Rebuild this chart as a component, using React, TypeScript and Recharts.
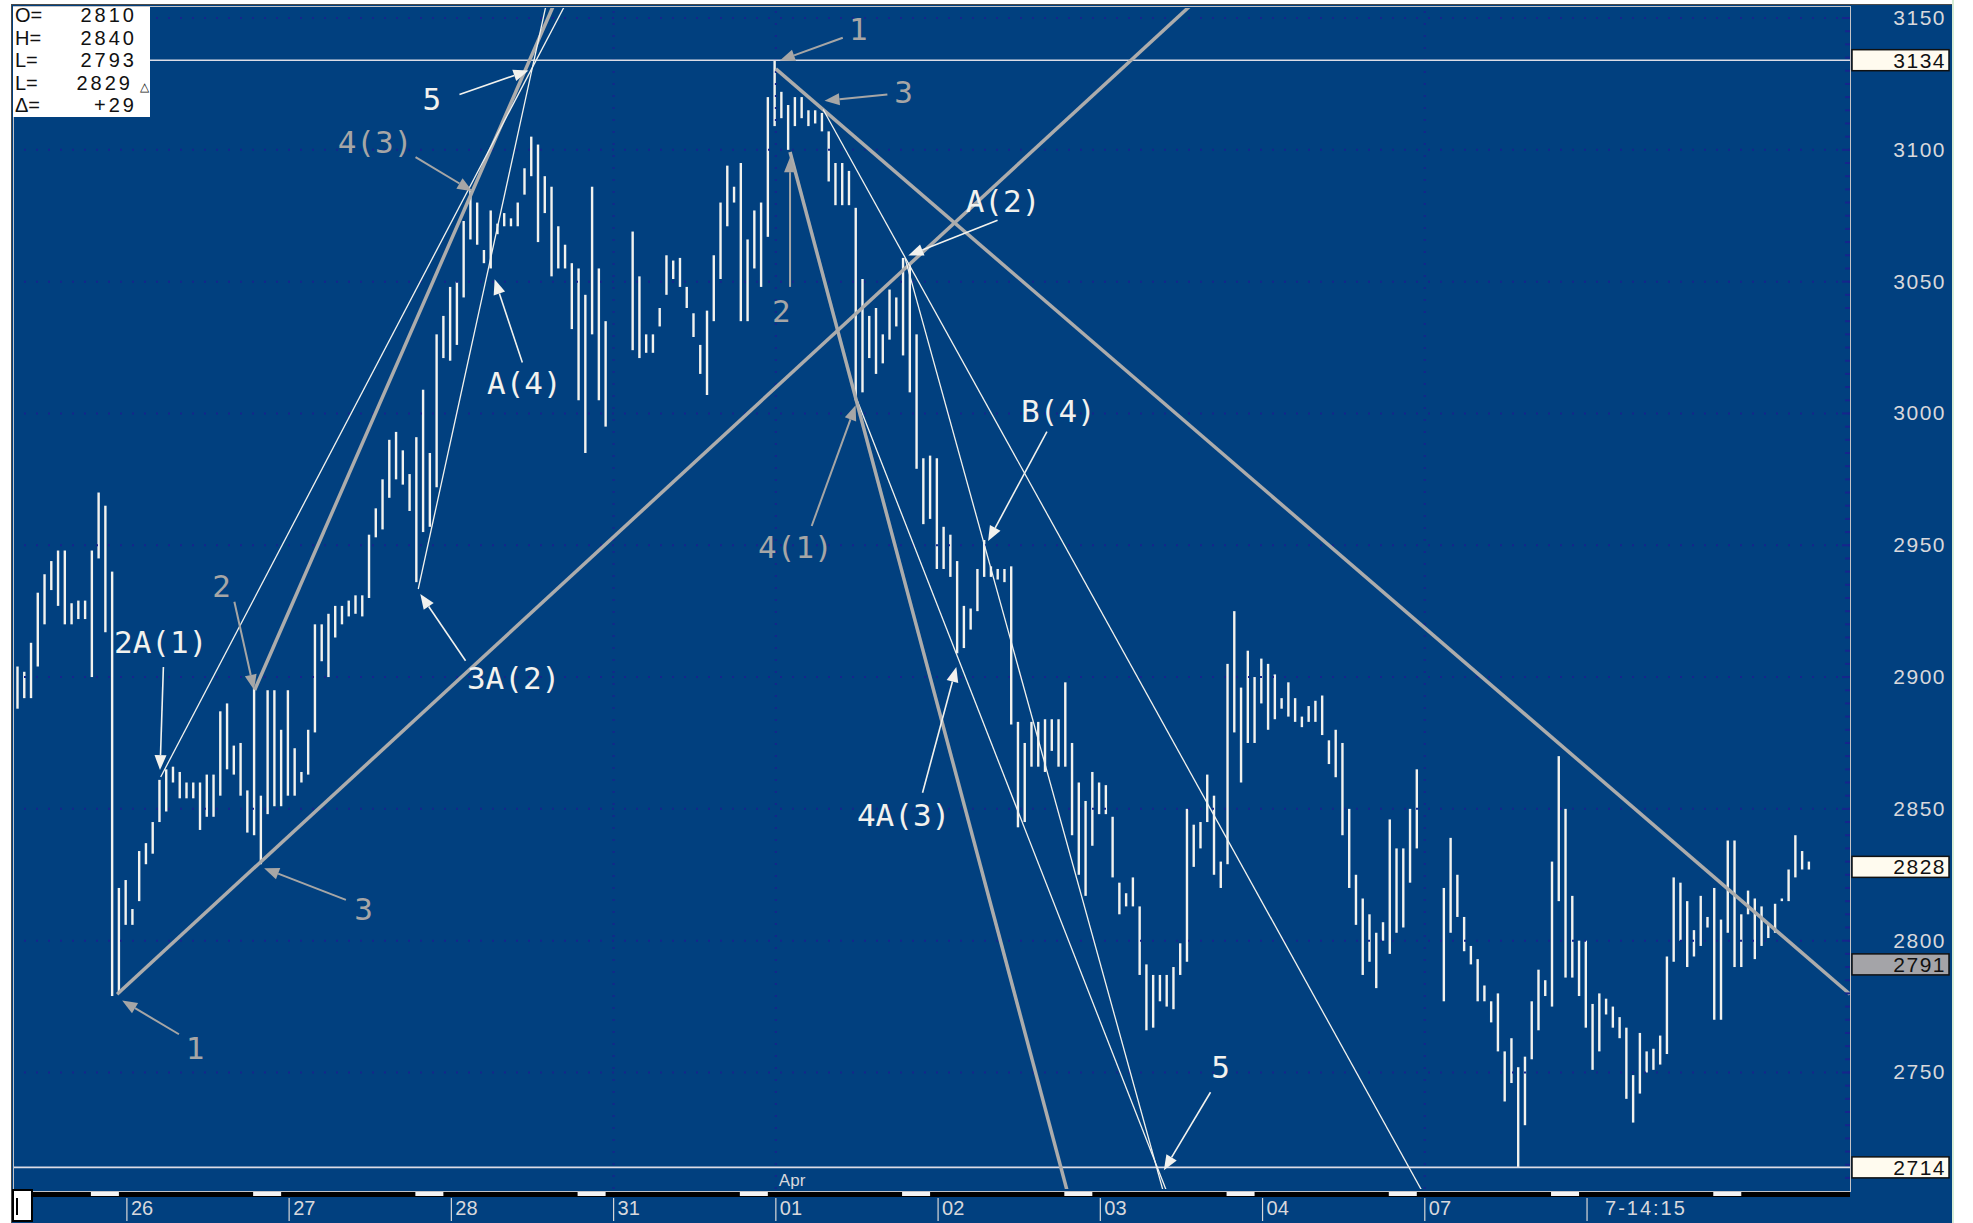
import React from "react";
import {
  ComposedChart,
  Bar,
  XAxis,
  YAxis,
  ReferenceLine,
  ReferenceDot,
} from "recharts";

// 15-minute bars, [low, high], one list per session. null = slot without trading.
const S25 = [
  [2888, 2904], [2892, 2902], [2892, 2913], [2904, 2932], [2920, 2939], [2933, 2944],
  [2927, 2948], [2920, 2948], [2920, 2928], [2922, 2929], [2922, 2929], [2900, 2948],
  [2945, 2970], [2917, 2965], [2779, 2940], [2780, 2820],
];
const S26 = [
  [2806, 2823], [2806, 2812], [2815, 2834], [2829, 2837], [2833, 2845], [2845, 2861],
  [2849, 2865], [2860, 2866], [2854, 2864], [2854, 2860], [2854, 2860], [2842, 2860],
  [2847, 2863], [2847, 2863], [2855, 2887], [2865, 2890], [2863, 2874], [2855, 2875],
  [2841, 2857], [2840, 2896], [2829, 2855], [2848, 2895], [2851, 2895], [2851, 2880],
];
const S27 = [
  [2855, 2895], [2855, 2873], [2860, 2864], [2863, 2880], [2879, 2920], [2906, 2920],
  [2900, 2924], [2915, 2927], [2920, 2927], [2923, 2929], [2924, 2931], [2923, 2931],
  [2930, 2954], [2953, 2964], [2956, 2975], [2968, 2990], [2975, 2993], [2973, 2986],
  [2963, 2977], [2936, 2991], [2955, 3009], [2957, 2985], [2972, 3030], [3021, 3037],
];
const S28 = [
  [3020, 3048], [3026, 3050], [3044, 3073], [3066, 3085], [3064, 3080], [3057, 3062],
  [3055, 3077], [3068, 3072], [3071, 3076], [3071, 3074], [3071, 3080], [3083, 3093],
  [3090, 3105], [3065, 3102], [3076, 3090], [3052, 3086], [3055, 3071], [3055, 3064],
  [3032, 3057], [3005, 3055], [2985, 3045], [3030, 3086], [3005, 3055], [2995, 3035],
];
const S31 = [
  null, null, null,
  [3024, 3069], [3021, 3052], [3023, 3030], [3023, 3030], [3033, 3040], [3045, 3060],
  [3051, 3058], [3048, 3059], [3040, 3048], [3029, 3038], [3015, 3026], [3007, 3039],
  [3035, 3060], [3051, 3080], [3071, 3094], [3080, 3086], [3035, 3095], [3035, 3066],
  [3055, 3077], [3048, 3080], [3067, 3120],
];
const S01 = [
  [3109, 3134], [3112, 3122], [3100, 3117], [3109, 3120], [3112, 3120], [3109, 3115],
  [3110, 3115], [3107, 3114], [3088, 3107], [3079, 3095], [3079, 3095], [3079, 3092],
  [3005, 3078], [3008, 3051], [3021, 3037], [3015, 3040], [3019, 3030], [3028, 3047],
  [3033, 3044], [3022, 3059], [3008, 3057], [2979, 3030], [2958, 2983], [2960, 2984],
];
const S02 = [
  [2941, 2983], [2941, 2957], [2938, 2954], [2909, 2944], [2911, 2927], [2918, 2926],
  [2925, 2941], [2938, 2952], [2938, 2942], [2937, 2941], [2936, 2941], [2882, 2942],
  [2843, 2883], [2845, 2875], [2866, 2883], [2866, 2883], [2864, 2884], [2872, 2884],
  [2866, 2884], [2866, 2898], [2840, 2875], [2825, 2860], [2817, 2853], [2836, 2864],
];
const S03 = [
  [2848, 2860], [2848, 2859], [2824, 2847], [2810, 2822], [2813, 2818], [2813, 2824],
  [2787, 2813], [2766, 2791], [2767, 2787], [2777, 2787], [2775, 2787], [2774, 2790],
  [2787, 2799], [2792, 2850], [2828, 2844], [2835, 2845], [2845, 2863], [2825, 2855],
  [2820, 2830], [2829, 2905], [2879, 2925], [2860, 2896], [2875, 2910], [2875, 2900],
];
const S04 = [
  [2890, 2907], [2880, 2905], [2884, 2901], [2888, 2892], [2885, 2898], [2883, 2892],
  [2881, 2885], [2883, 2889], [2883, 2891], [2878, 2893], [2867, 2876], [2862, 2880],
  [2840, 2875], [2820, 2850], [2806, 2825], [2787, 2816], [2792, 2810], [2782, 2803],
  [2800, 2807], [2795, 2846], [2803, 2835], [2805, 2835], [2822, 2850], [2835, 2865],
];
const S07 = [
  null, null, null,
  [2777, 2820], [2803, 2839], [2809, 2825], [2796, 2809], [2791, 2798], [2777, 2793],
  [2777, 2783], [2769, 2777], [2758, 2780], [2739, 2758], [2746, 2763], [2714, 2752],
  [2730, 2756], [2755, 2777], [2766, 2789], [2779, 2785], [2775, 2830], [2815, 2870],
  [2786, 2850], [2786, 2817], [2779, 2800],
  [2767, 2800], [2751, 2776], [2758, 2780], [2772, 2778], [2767, 2775], [2763, 2771],
  [2740, 2767], [2731, 2749], [2742, 2765], [2750, 2758], [2751, 2759], [2753, 2764],
  [2757, 2794], [2792, 2824], [2800, 2822], [2790, 2815], [2794, 2804], [2798, 2817],
  [2805, 2809], [2770, 2820], [2770, 2808], [2803, 2838], [2790, 2838], [2790, 2810],
  [2810, 2819], [2793, 2816], [2798, 2813], [2801, 2806], [2803, 2814], [2815, 2816],
  [2815, 2827], [2824, 2840], [2827, 2834], [2827, 2830],
];

const SESSIONS = [S25, S26, S27, S28, S31, S01, S02, S03, S04, S07];
const SLOTS_PER_DAY = 24;
const FIRST_DAY_SLOT = 16; // slot of the first bar on the 26th

const DAY_LABELS = ["26", "27", "28", "31", "01", "02", "03", "04", "07", "7-14:15", ""];
const MONTH_LABELS: Record<string, string> = { "01": "Apr" };
const GRID_DAYS = ["31", "01", "07"];

const PRICE_GRID = [2750, 2800, 2850, 2900, 2950, 3000, 3050, 3100, 3150];
const MARKED_LEVELS = [3134, 2828, 2791, 2714];

const INFO_ROWS = [
  ["O=", "2810"],
  ["H=", "2840"],
  ["L=", "2793"],
  ["L=", "2829"],
  ["\u0394=", "+29"],
];

// wave counts drawn on the chart: [slot, price]
const TREND_LINES = [
  { from: [14.75, 2779.7], to: [180, 3170], thick: true },
  { from: [35.1, 2895.1], to: [81.9, 3170], thick: true },
  { from: [21.2, 2862.1], to: [84.1, 3170], thick: false },
  { from: [59.3, 2933.4], to: [79.5, 3170], thick: false },
  { from: [112.2, 3130.7], to: [271.1, 2779.7], thick: true },
  { from: [119.2, 3115.3], to: [207.8, 2705], thick: false },
  { from: [131.3, 3059], to: [169.5, 2705], thick: false },
  { from: [124.2, 3005.2], to: [170, 2705], thick: false },
  { from: [114.3, 3099.2], to: [155.3, 2705], thick: true },
];

const WAVE_TEXT = [
  { t: "1", at: [26.3, 2759.2], gray: true },
  { t: "2A(1)", at: [21.2, 2913.4], gray: false },
  { t: "2", at: [30.2, 2934.4], gray: true },
  { t: "3", at: [51.2, 2812.2], gray: true },
  { t: "3A(2)", at: [73.4, 2899.6], gray: false },
  { t: "4(3)", at: [52.9, 3103], gray: true },
  { t: "5", at: [61.3, 3119.1], gray: false },
  { t: "A(4)", at: [75.0, 3011.7], gray: false },
  { t: "1", at: [124.4, 3145.9], gray: true },
  { t: "3", at: [131.1, 3122], gray: true },
  { t: "2", at: [113.0, 3038.8], gray: true },
  { t: "A(2)", at: [145.8, 3080.6], gray: false },
  { t: "B(4)", at: [154.0, 3000.9], gray: false },
  { t: "4(1)", at: [115.1, 2949.2], gray: true },
  { t: "4A(3)", at: [131.1, 2847.5], gray: false },
  { t: "5", at: [178.0, 2752], gray: false },
];

const ARROWS = [
  { from: [23.9, 2764.5], to: [15.5, 2777.3], gray: true },
  { from: [21.6, 2903.8], to: [21.1, 2864.7], gray: false },
  { from: [32.1, 2928.6], to: [35.0, 2895.2], gray: true },
  { from: [48.6, 2815.5], to: [36.5, 2827.5], gray: true },
  { from: [66.3, 2906.2], to: [59.6, 2931.5], gray: false },
  { from: [58.9, 3097.2], to: [67.3, 3084.3], gray: true },
  { from: [65.4, 3121.0], to: [75.6, 3130.1], gray: false },
  { from: [74.7, 3019.3], to: [70.6, 3050.9], gray: false },
  { from: [122.1, 3142.5], to: [112.8, 3133.9], gray: true },
  { from: [128.7, 3121.0], to: [119.4, 3118.6], gray: true },
  { from: [114.3, 3048.0], to: [114.3, 3097.2], gray: true },
  { from: [145.0, 3073.3], to: [131.8, 3059.9], gray: false },
  { from: [152.3, 2993.1], to: [143.6, 2951.6], gray: false },
  { from: [117.5, 2957.3], to: [124.0, 3003.1], gray: true },
  { from: [133.9, 2856.1], to: [138.9, 2903.8], gray: false },
  { from: [176.5, 2742.5], to: [169.6, 2712.9], gray: false },
];

const BLUE = "#01407f";
const WHITE = "#f2f2ee";
const GRAY = "#a6a6a6";
const DOTS = "#16258c";
const Y_DOMAIN: [number, number] = [2705.8, 3153.8];
const X_DOMAIN: [number, number] = [-0.5, 271.1];
const AXIS_TEXT = "#d8d8dc";
const SANS = "'Liberation Sans', Arial, sans-serif";
const MONO = "'DejaVu Sans Mono', monospace";

const bars = SESSIONS.flatMap((s, k) => {
  const base = k === 0 ? 0 : FIRST_DAY_SLOT + SLOTS_PER_DAY * (k - 1);
  return s.flatMap((v, j) => (v ? [{ i: base + j, hl: v }] : []));
});

const dayTicks = DAY_LABELS.map((_, k) => FIRST_DAY_SLOT + 0.2 + SLOTS_PER_DAY * k);
const priceTicks: number[] = [];
for (let v = 2710; v <= 3150; v += 5) priceTicks.push(v);

const BarShape = (p: any) => {
  const top = Math.min(p.y, p.y + p.height);
  const h = Math.max(Math.abs(p.height), 1);
  return <rect x={p.x + p.width / 2 - 1.2} y={top} width={2.4} height={h} fill={WHITE} />;
};

const arrowShape = (color: string, w: number) => (p: any) => {
  const { x1, y1, x2, y2 } = p;
  const a = Math.atan2(y2 - y1, x2 - x1);
  const L = 15;
  const W = 6;
  const bx = x2 - L * Math.cos(a);
  const by = y2 - L * Math.sin(a);
  const pts = `${x2},${y2} ${bx + W * Math.sin(a)},${by - W * Math.cos(a)} ${bx - W * Math.sin(a)},${by + W * Math.cos(a)}`;
  return (
    <g>
      <line x1={x1} y1={y1} x2={bx} y2={by} stroke={color} strokeWidth={w} />
      <polygon points={pts} fill={color} />
    </g>
  );
};

const DayTick = (props: any) => {
  const { x, y, index } = props;
  const label = DAY_LABELS[index] ?? "";
  const month = MONTH_LABELS[label];
  return (
    <g>
      <rect x={x - 36} y={y + 3} width={28} height={4} fill="#f4f4f4" />
      {label && <line x1={x} x2={x} y1={y + 9} y2={y + 32} stroke="#d8d8d8" strokeWidth={1.2} />}
      {label && (
        <text x={x + (label.length > 2 ? 18 : 4)} y={y + 26} fill={AXIS_TEXT} fontSize={20} fontFamily={SANS} letterSpacing={label.length > 2 ? 2 : 0}>
          {label}
        </text>
      )}
      {month && (
        <text x={x + 3} y={y - 3} fill={AXIS_TEXT} fontSize={17} fontFamily={SANS}>
          {month}
        </text>
      )}
    </g>
  );
};

const RightTick = (props: any) => {
  const { x, y, payload } = props;
  const v = payload.value;
  return (
    <g>
      <line x1={x - (v % 50 === 0 ? 8 : 5)} x2={x} y1={y} y2={y} stroke={DOTS} strokeWidth={2} />
      {v % 50 === 0 && (
        <text x={x + 96} y={y + 7} textAnchor="end" fill={AXIS_TEXT} fontSize={21} fontFamily={SANS} letterSpacing={1.5}>
          {v}
        </text>
      )}
    </g>
  );
};

const LeftTick = (props: any) => {
  const { x, y, payload } = props;
  return <line x1={x} x2={x + (payload.value % 50 === 0 ? 8 : 5)} y1={y} y2={y} stroke={DOTS} strokeWidth={2} />;
};

const levelTag = (value: number, fill: string) => (p: any) => {
  const vb = p.viewBox;
  const left = vb.x + vb.width + 2;
  return (
    <g>
      <rect x={left} y={vb.y - 10.5} width={97} height={21} fill={fill} stroke="#111" strokeWidth={1.5} />
      <text x={left + 94} y={vb.y + 7.5} textAnchor="end" fill="#111" fontSize={21} fontFamily={SANS} letterSpacing={1.5}>
        {value}
      </text>
    </g>
  );
};

function InfoBox() {
  return (
    <div
      style={{
        position: "absolute",
        left: 13,
        top: 7,
        width: 137,
        height: 110,
        background: "#fff",
        fontFamily: SANS,
        fontSize: 20,
        color: "#111",
      }}
    >
      {INFO_ROWS.map(([k, v], r) => (
        <div key={r} style={{ position: "absolute", left: 2, top: r * 22.6 - 3, width: 122, height: 22, lineHeight: "22px" }}>
          <span>{k}</span>
          <span style={{ position: "absolute", right: r === 3 ? 4 : 0, letterSpacing: 3 }}>{v}</span>
          {r === 3 && (
            <span style={{ position: "absolute", right: -12, top: 4, fontSize: 12 }}>{"\u25B3"}</span>
          )}
        </div>
      ))}
    </div>
  );
}

export default function App() {
  return (
    <div style={{ position: "relative", width: 1973, height: 1223, background: "#fff", overflow: "hidden" }}>
      <style>{"body{margin:0}"}</style>
      <div
        style={{
          position: "absolute",
          left: 11,
          top: 4,
          width: 1941,
          height: 1219,
          background: BLUE,
          borderLeft: "1px solid #4a4a4a",
          borderTop: "1px solid #4a4a4a",
          boxSizing: "border-box",
        }}
      />
      <div style={{ position: "absolute", left: 1952, top: 0, width: 2, height: 1223, background: "#d6ecd6" }} />
      <div style={{ position: "absolute", left: 33, top: 1191, width: 1817, height: 6, background: "#000" }} />
      <div
        style={{
          position: "absolute",
          left: 13,
          top: 6,
          width: 1838,
          height: 1186,
          border: "1.5px solid #c4c4c8",
          boxSizing: "border-box",
        }}
      />
      <div
        style={{
          position: "absolute",
          left: 12,
          top: 1189,
          width: 21,
          height: 33,
          background: "#fff",
          border: "2px solid #000",
          boxSizing: "border-box",
        }}
      >
        <div style={{ position: "absolute", left: 2, top: 7, width: 1.5, height: 17, background: "#000" }} />
      </div>

      <div style={{ position: "absolute", left: 0, top: 0 }}>
        <ComposedChart width={1952} height={1223} data={bars} margin={{ top: 8, right: 0, bottom: 0, left: 14 }}>
          <XAxis
            dataKey="i"
            type="number"
            domain={X_DOMAIN}
            allowDataOverflow
            ticks={dayTicks}
            interval={0}
            tick={DayTick}
            tickLine={false}
            axisLine={false}
            tickSize={0}
            tickMargin={0}
            height={34}
          />
          <YAxis
            yAxisId={0}
            orientation="right"
            domain={Y_DOMAIN}
            allowDataOverflow
            ticks={priceTicks}
            interval={0}
            tick={RightTick}
            tickLine={false}
            axisLine={false}
            tickSize={0}
            tickMargin={0}
            width={102}
          />
          <YAxis
            yAxisId="left"
            orientation="left"
            domain={Y_DOMAIN}
            allowDataOverflow
            ticks={priceTicks}
            interval={0}
            tick={LeftTick}
            tickLine={false}
            axisLine={false}
            tickSize={0}
            tickMargin={0}
            width={0}
          />

          {PRICE_GRID.map((v) => (
            <ReferenceLine key={`g${v}`} y={v} stroke={DOTS} strokeWidth={2} strokeDasharray="2 10" />
          ))}
          {dayTicks
            .filter((_, k) => GRID_DAYS.includes(DAY_LABELS[k]))
            .map((t) => (
              <ReferenceLine key={`v${t}`} x={t} stroke={DOTS} strokeWidth={2} strokeDasharray="2 10" />
            ))}

          {MARKED_LEVELS.map((v, k) => (
            <ReferenceLine
              key={`m${v}`}
              y={v}
              stroke={k === 0 || k === MARKED_LEVELS.length - 1 ? "#dcdce6" : "none"}
              strokeWidth={1.6}
              label={levelTag(v, k === 2 ? "#a4a4a8" : "#fffbef")}
            />
          ))}

          <Bar dataKey="hl" barSize={3} isAnimationActive={false} shape={BarShape} />

          {TREND_LINES.map((l, k) => (
            <ReferenceLine
              key={`t${k}`}
              segment={[
                { x: l.from[0], y: l.from[1] },
                { x: l.to[0], y: l.to[1] },
              ]}
              stroke={l.thick ? "#acacac" : WHITE}
              strokeWidth={l.thick ? 3.5 : 1.3}
              ifOverflow="hidden"
            />
          ))}

          {ARROWS.map((a, k) => (
            <ReferenceLine
              key={`a${k}`}
              segment={[
                { x: a.from[0], y: a.from[1] },
                { x: a.to[0], y: a.to[1] },
              ]}
              ifOverflow="visible"
              shape={arrowShape(a.gray ? GRAY : WHITE, a.gray ? 2 : 1.6)}
            />
          ))}

          {WAVE_TEXT.map((w, k) => (
            <ReferenceDot
              key={`w${k}`}
              x={w.at[0]}
              y={w.at[1]}
              r={1}
              ifOverflow="visible"
              shape={(p: any) => (
                <text
                  x={p.cx}
                  y={p.cy + 11}
                  textAnchor="middle"
                  fill={w.gray ? GRAY : WHITE}
                  fontSize={31}
                  fontFamily={MONO}
                >
                  {w.t}
                </text>
              )}
            />
          ))}
        </ComposedChart>
      </div>
      <InfoBox />
    </div>
  );
}
